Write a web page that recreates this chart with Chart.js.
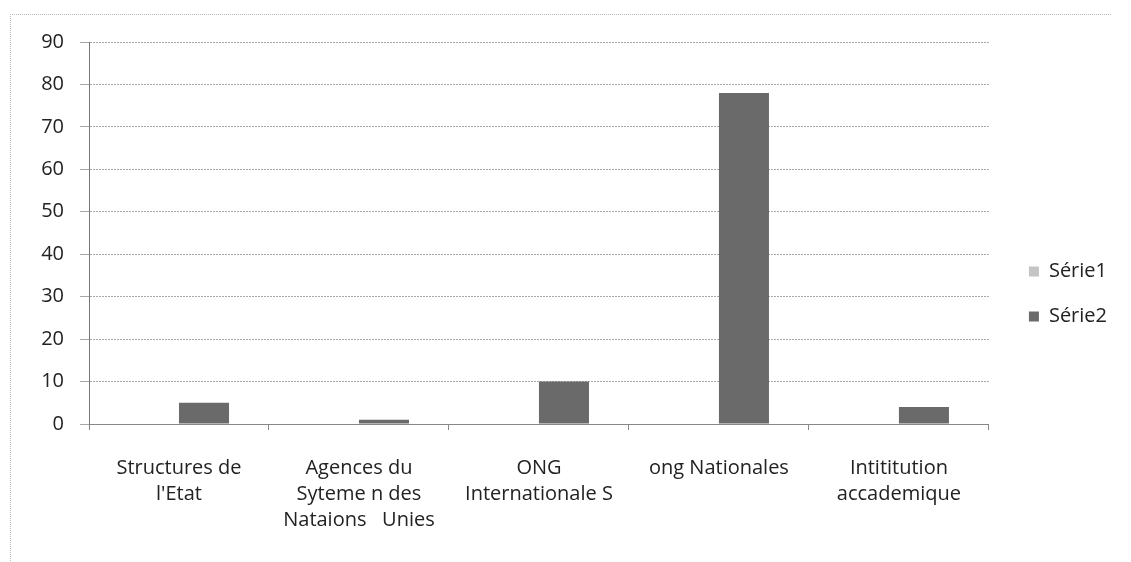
<!DOCTYPE html>
<html>
<head>
<meta charset="utf-8">
<script src="https://cdn.jsdelivr.net/npm/chart.js@4.4.1/dist/chart.umd.min.js"></script>
<style>
  html, body { margin: 0; padding: 0; background: #fff; }
  #wrap { position: relative; width: 1131px; height: 562px; }
  #frame { position: absolute; left: 10px; top: 14px; width: 1100px; height: 560px;
           border-top: 1px dotted #bbb; border-left: 1px dotted #bbb; pointer-events: none; }
</style>
</head>
<body>
<div id="wrap">
  <canvas id="chart" width="1131" height="562"></canvas>
  <div id="frame"></div>
</div>
<script>
const categories = [
  ["Structures de", "l'Etat"],
  ["Agences du", "Syteme n des", "Nataions   Unies"],
  ["ONG", "Internationale S"],
  ["ong Nationales"],
  ["Intititution", "accademique"]
];
const serie1 = [0, 0, 0, 0, 0];
const serie2 = [5, 1, 10, 78, 4];
const yTicks = [0, 10, 20, 30, 40, 50, 60, 70, 80, 90];

const FONT = "'Open Sans', Lato, sans-serif";
const GAP = 15;

// leave a gap between the plot and the legend, legend text stays put
const legendGap = {
  id: 'legendGap',
  beforeLayout(chart) {
    const lg = chart.legend;
    if (lg && !lg._wrapped) {
      const fit = lg.fit.bind(lg);
      const draw = lg.draw.bind(lg);
      lg.fit = function () { fit(); this.width += GAP; };
      lg.draw = function () {
        const ctx = this.ctx;
        ctx.save();
        ctx.translate(GAP, -8);
        draw();
        ctx.restore();
      };
      lg._wrapped = true;
    }
  }
};

new Chart(document.getElementById('chart'), {
  type: 'bar',
  data: {
    labels: categories,
    datasets: [
      {
        label: "Série1",
        data: serie1,
        backgroundColor: '#c4c4c4',
        barPercentage: 1,
        categoryPercentage: 0.556
      },
      {
        label: "Série2",
        data: serie2,
        backgroundColor: '#6a6a6a',
        barPercentage: 1,
        categoryPercentage: 0.556
      }
    ]
  },
  plugins: [legendGap],
  options: {
    responsive: false,
    animation: false,
    layout: { padding: { left: 10, top: 42, right: 14, bottom: 0 } },
    plugins: {
      legend: {
        position: 'right',
        labels: {
          font: { family: FONT, size: 20 },
          color: '#222',
          boxWidth: 10,
          boxHeight: 10,
          padding: 25
        }
      },
      tooltip: { enabled: false }
    },
    scales: {
      x: {
        grid: { drawOnChartArea: false, drawTicks: true, tickLength: 6, color: '#888', offset: true },
        border: { color: '#888' },
        ticks: { font: { family: FONT, size: 20, lineHeight: 1.3 }, color: '#222', padding: 25, maxRotation: 0 },
        afterFit(scale) { scale.height = 138; }
      },
      y: {
        min: 0,
        max: 90,
        afterBuildTicks(scale) { scale.ticks = yTicks.map(v => ({ value: v })); },
        grid: { color: '#a8a8a8', tickLength: 9 },
        border: { color: '#777', dash: [2, 1] },
        ticks: { font: { family: FONT, size: 20 }, color: '#222', padding: 16 },
        afterFit(scale) { scale.width = 79; }
      }
    }
  }
});
</script>
</body>
</html>
